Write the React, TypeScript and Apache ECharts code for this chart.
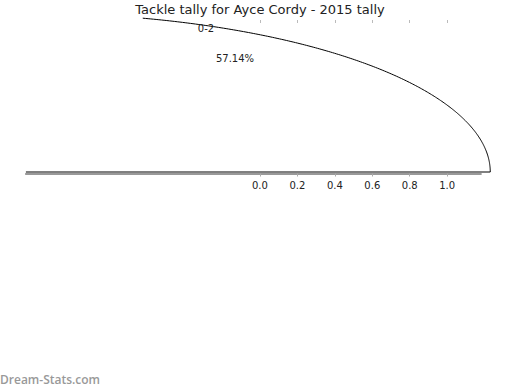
import React, { useEffect, useRef } from "react";
import * as echarts from "echarts";

// ---- data ----
const TITLE = "Tackle tally for Ayce Cordy - 2015 tally";
const CATEGORIES = ["0-2"];
const VALUES = [57.14]; // percent of total
const X_TICKS = [0, 0.2, 0.4, 0.6, 0.8, 1.0];
const WATERMARK = "Dream-Stats.com";

// axis ranges (data units)
const X_MIN = -1.25;
const X_MAX = 1.18;
const Y_MIN = -1.25;
const Y_MAX = 1.25;

// drawn wedge geometry in data units (as rendered by the source)
const WEDGE_CENTER = [-1.25, -1.25];
const WEDGE_RADIUS = [2.48, 2.58];
// label geometry (pie centred at origin, radius 1)
const LABEL_CENTER = [0, 0];

export default function App() {
  const ref = useRef<HTMLDivElement>(null);
  useEffect(() => {
    if (!ref.current) return;
    const chart = echarts.init(ref.current, null, { renderer: "svg" });
    const total = 100;
    const starts: number[] = [];
    let acc = 0;
    VALUES.forEach((v) => {
      starts.push(acc);
      acc += v;
    });

    const option: any = {
      animation: false,
      title: {
        text: TITLE,
        left: "center",
        top: 3,
        padding: 0,
        textStyle: {
          fontFamily: "DejaVu Sans",
          fontSize: 13,
          fontWeight: "normal",
          color: "#222",
        },
      },
      grid: { left: 25.9, top: 18, width: 455, height: 154, containLabel: false },
      xAxis: [
        {
          type: "value",
          position: "bottom",
          offset: 1.5,
          min: X_MIN,
          max: X_MAX,
          splitLine: { show: false },
          axisLine: { show: true, onZero: false, lineStyle: { color: "#999", width: 2 } },
          axisTick: {
            show: true,
            length: 3,
            customValues: X_TICKS,
            lineStyle: { color: "#aaa" },
          },
          axisLabel: {
            customValues: X_TICKS,
            formatter: (v: number) => v.toFixed(1),
            fontFamily: "DejaVu Sans",
            fontSize: 10,
            color: "#222",
            margin: 7,
          },
        },
        {
          type: "value",
          position: "top",
          offset: -2,
          min: X_MIN,
          max: X_MAX,
          splitLine: { show: false },
          axisLine: { show: false, onZero: false },
          axisTick: {
            show: true,
            inside: true,
            length: 3,
            customValues: X_TICKS,
            lineStyle: { color: "#bbb" },
          },
          axisLabel: { show: false },
        },
      ],
      yAxis: {
        type: "value",
        min: Y_MIN,
        max: Y_MAX,
        show: false,
        splitLine: { show: false },
      },
      series: [
        {
          type: "custom",
          clip: false,
          xAxisIndex: 0,
          data: VALUES.map((v, i) => ({ value: [v], name: CATEGORIES[i] })),
          renderItem: (params: any, api: any) => {
            const i = params.dataIndex;
            const v = api.value(0);
            const t0 = (starts[i] / total) * Math.PI * 2;
            const t1 = ((starts[i] + v) / total) * Math.PI * 2;
            const unit = api.size([1, 1]);
            const c = api.coord(WEDGE_CENTER);
            const topY = api.coord([0, Y_MAX])[1];
            const botY = api.coord([0, Y_MIN])[1];
            const a = WEDGE_RADIUS[0] * unit[0];
            const b = WEDGE_RADIUS[1] * unit[1];
            // outline: center -> arc, clipped vertically to the plot area
            const segments: number[][][] = [];
            let cur: number[][] = [[c[0], c[1]]];
            const n = 600;
            for (let k = 0; k <= n; k++) {
              const t = t0 + ((t1 - t0) * k) / n;
              const p = [c[0] + a * Math.cos(t), c[1] - b * Math.sin(t)];
              if (p[1] >= topY - 0.01 && p[1] <= botY + 0.01 && p[0] >= 0) {
                cur.push(p);
              } else if (cur.length) {
                if (cur.length > 1) segments.push(cur);
                cur = [];
              }
            }
            if (cur.length > 1) segments.push(cur);
            const lc = api.coord(LABEL_CENTER);
            const mid = (t0 + t1) / 2;
            const lx = lc[0] + 1.1 * Math.cos(mid) * unit[0];
            const ly = lc[1] - 1.1 * Math.sin(mid) * unit[1];
            const px = lc[0] + 0.6 * Math.cos(mid) * unit[0];
            const py = lc[1] - 0.6 * Math.sin(mid) * unit[1];
            return {
              type: "group",
              children: [
                ...segments.map((seg) => ({
                  type: "polyline",
                  shape: { points: seg },
                  style: { fill: null, stroke: "#000", lineWidth: 1 },
                })),
                {
                  type: "text",
                  x: lx,
                  y: ly,
                  style: {
                    text: CATEGORIES[i],
                    fontFamily: "DejaVu Sans",
                    fontSize: 10,
                    fill: "#222",
                    align: Math.cos(mid) < 0 ? "right" : "left",
                    verticalAlign: "middle",
                  },
                },
                {
                  type: "text",
                  x: px,
                  y: py,
                  style: {
                    text: v.toFixed(2) + "%",
                    fontFamily: "DejaVu Sans",
                    fontSize: 10,
                    fill: "#222",
                    align: "center",
                    verticalAlign: "middle",
                  },
                },
              ],
            };
          },
        },
      ],
      graphic: [
        {
          type: "text",
          left: 0,
          top: 373,
          style: {
            text: WATERMARK,
            fontFamily: "Open Sans",
            fontSize: 12,
            fontWeight: 600,
            fill: "#999",
          },
        },
      ],
    };
    chart.setOption(option);
    return () => chart.dispose();
  }, []);
  return (
    <div
      ref={ref}
      style={{ position: "absolute", left: 0, top: 0, width: 520, height: 390 }}
    />
  );
}
